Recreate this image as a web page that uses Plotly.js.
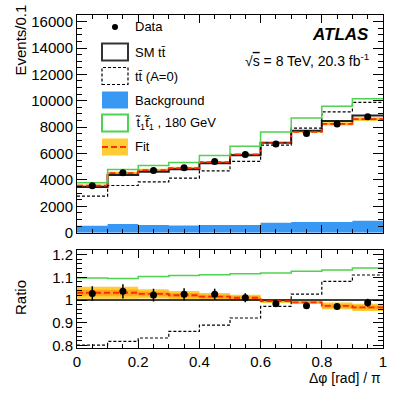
<!DOCTYPE html>
<html>
<head>
<meta charset="utf-8">
<script src="https://cdn.plot.ly/plotly-3.0.1.min.js"></script>
<style>
  body { margin: 0; background: #fff; }
  #chart { width: 399px; height: 394px; }
</style>
</head>
<body>
<div id="chart"></div>
<script>
// bins in delta phi / pi
const binEdges = [0, 0.1, 0.2, 0.3, 0.4, 0.5, 0.6, 0.7, 0.8, 0.9, 1.0];
const binCenters = [0.05, 0.15, 0.25, 0.35, 0.45, 0.55, 0.65, 0.75, 0.85, 0.95];

// upper panel, events per bin
const dataEvents = [3561, 4545, 4727, 4924, 5409, 5939, 6720, 7530, 8235, 8788];
const dataErr = [114, 141, 132, 133, 130, 119, 87, 90, 99, 158];
const smTT = [3461, 4379, 4625, 4804, 5277, 5880, 6829, 7723, 8472, 8895];
const ttNoSpin = [2776, 3582, 3853, 4141, 4697, 5415, 6638, 7924, 9167, 9873];
const stop180 = [3797, 4795, 5101, 5323, 5863, 6556, 7642, 8696, 9590, 10149];
const background = [530, 660, 583, 561, 583, 583, 758, 811, 811, 909];
const fitEvents = [3572, 4519, 4750, 4905, 5356, 5939, 6795, 7646, 8252, 8610];
const fitErr = [90, 114, 93, 91, 84, 76, 55, 62, 127, 142];

// lower panel, ratio to SM tt
const ratioData = [1.029, 1.038, 1.022, 1.025, 1.025, 1.010, 0.984, 0.975, 0.972, 0.988];
const ratioDataErr = [0.032, 0.031, 0.028, 0.027, 0.024, 0.020, 0.013, 0.012, 0.012, 0.018];
const ratioSM = [1, 1, 1, 1, 1, 1, 1, 1, 1, 1];
const ratioNoSpin = [0.802, 0.818, 0.833, 0.862, 0.890, 0.921, 0.972, 1.026, 1.082, 1.110];
const ratioStop = [1.097, 1.095, 1.103, 1.108, 1.111, 1.115, 1.119, 1.126, 1.132, 1.141];
const ratioFit = [1.032, 1.032, 1.027, 1.021, 1.015, 1.010, 0.995, 0.990, 0.974, 0.968];
const ratioFitErr = [0.026, 0.026, 0.020, 0.019, 0.016, 0.013, 0.008, 0.008, 0.015, 0.016];

// tick labels
const eventTicks = [0, 2000, 4000, 6000, 8000, 10000, 12000, 14000, 16000];
const ratioTicks = [0.8, 0.9, 1, 1.1, 1.2];
const ratioTickText = ['0.8', '0.9', '1', '1.1', '1.2'];
const xTicks = [0, 0.2, 0.4, 0.6, 0.8, 1];
const xTickText = ['0', '0.2', '0.4', '0.6', '0.8', '1'];

const FONT = 'Liberation Sans, Arial, Helvetica, sans-serif';
const GREEN = '#4fd24f';
const BLUE = '#3a98f5';
const YELLOW = '#ffcc33';
const ORANGE = '#ffa41c';
const RED = '#ff2a00';

// histogram helpers: bin edges + last value repeated, drawn with hv steps
function steps(vals) { return vals.concat([vals[vals.length - 1]]); }
function stepTrace(vals, xa, ya, line, extra) {
  return Object.assign({
    x: binEdges, y: steps(vals), xaxis: xa, yaxis: ya,
    type: 'scatter', mode: 'lines', line: Object.assign({ shape: 'hv' }, line),
    hoverinfo: 'skip', showlegend: false
  }, extra || {});
}
function band(center, err, scale, color, xa, ya) {
  const lo = center.map((v, i) => v - err[i] * scale);
  const hi = center.map((v, i) => v + err[i] * scale);
  return [
    stepTrace(lo, xa, ya, { width: 0 }),
    stepTrace(hi, xa, ya, { width: 0 }, { fill: 'tonexty', fillcolor: color })
  ];
}

const traces = [
  // upper panel
  stepTrace(background, 'x', 'y', { width: 0 }, { fill: 'tozeroy', fillcolor: BLUE }),
  ...band(fitEvents, fitErr, 1, YELLOW, 'x', 'y'),
  ...band(fitEvents, fitErr, 0.5, ORANGE, 'x', 'y'),
  stepTrace(smTT, 'x', 'y', { color: '#222', width: 2 }),
  stepTrace(fitEvents, 'x', 'y', { color: RED, width: 1.8, dash: '6px,3px' }),
  stepTrace(ttNoSpin, 'x', 'y', { color: '#000', width: 1.2, dash: '3px,2px' }),
  stepTrace(stop180, 'x', 'y', { color: GREEN, width: 1.5 }),
  {
    x: binCenters, y: dataEvents, xaxis: 'x', yaxis: 'y',
    type: 'scatter', mode: 'markers',
    marker: { color: '#000', size: 7 },
    error_y: { type: 'data', array: dataErr, color: '#000', thickness: 1.5, width: 0 },
    showlegend: false
  },
  // ratio panel
  stepTrace(ratioStop, 'x2', 'y2', { color: GREEN, width: 1.5 }),
  ...band(ratioFit, ratioFitErr, 1, YELLOW, 'x2', 'y2'),
  ...band(ratioFit, ratioFitErr, 0.5, ORANGE, 'x2', 'y2'),
  stepTrace(ratioSM, 'x2', 'y2', { color: '#000', width: 1.5 }),
  stepTrace(ratioFit, 'x2', 'y2', { color: RED, width: 1.8, dash: '6px,3px' }),
  stepTrace(ratioNoSpin, 'x2', 'y2', { color: '#000', width: 1.2, dash: '3px,2px' }),
  {
    x: binCenters, y: ratioData, xaxis: 'x2', yaxis: 'y2',
    type: 'scatter', mode: 'markers',
    marker: { color: '#000', size: 7 },
    error_y: { type: 'data', array: ratioDataErr, color: '#000', thickness: 1.5, width: 0 },
    showlegend: false
  }
];

// pixel -> paper helpers (plot area: x 77..383, y 15..348)
const L = 77, R = 16, T = 15, B = 46, W = 399, H = 394;
const px = (x) => (x - L) / (W - L - R);
const py = (y) => (H - B - y) / (H - T - B);

const axisCommon = {
  showline: true, linecolor: '#000', linewidth: 1, mirror: 'ticks',
  ticks: 'inside', tickcolor: '#000', showgrid: false, zeroline: false,
  tickfont: { family: FONT, size: 15, color: '#000' }
};

// hand-drawn legend
const legendRows = [
  { label: 'Data', y: 27, kind: 'dot' },
  { label: 'SM tt\u0304', y: 52, kind: 'sm' },
  { label: 'tt\u0304 (A=0)', y: 76, kind: 'nospin' },
  { label: 'Background', y: 100, kind: 'bkg' },
  { label: 't\u0303<sub>1</sub>t\u0303\u0304<sub>1</sub> , 180 GeV', y: 123, kind: 'stop' },
  { label: 'Fit', y: 147, kind: 'fit' }
];
const shapes = [];
const annotations = [];
legendRows.forEach((r) => {
  const box = { type: 'rect', xref: 'paper', yref: 'paper',
    x0: px(102), x1: px(128), y0: py(r.y + 8.5), y1: py(r.y - 8.5) };
  if (r.kind === 'dot') {
    shapes.push({ type: 'circle', xref: 'paper', yref: 'paper',
      x0: px(112), x1: px(118), y0: py(r.y + 3), y1: py(r.y - 3),
      fillcolor: '#000', line: { width: 0 } });
  } else if (r.kind === 'sm') {
    shapes.push(Object.assign(box, { line: { color: '#333', width: 2 } }));
  } else if (r.kind === 'nospin') {
    shapes.push(Object.assign(box, { line: { color: '#000', width: 1.2, dash: '3px,2px' } }));
  } else if (r.kind === 'bkg') {
    shapes.push(Object.assign(box, { fillcolor: BLUE, line: { width: 0 } }));
  } else if (r.kind === 'stop') {
    shapes.push(Object.assign(box, { line: { color: GREEN, width: 2 } }));
  } else if (r.kind === 'fit') {
    shapes.push(Object.assign(box, { fillcolor: YELLOW, line: { width: 0 } }));
    shapes.push({ type: 'line', xref: 'paper', yref: 'paper',
      x0: px(102), x1: px(128), y0: py(r.y), y1: py(r.y),
      line: { color: RED, width: 1.8, dash: '6px,3px' } });
  }
  annotations.push({ xref: 'paper', yref: 'paper', x: px(133), y: py(r.y),
    xanchor: 'left', yanchor: 'middle', showarrow: false, text: r.label,
    font: { family: FONT, size: 13, color: '#000' } });
});

annotations.push(
  { xref: 'paper', yref: 'paper', x: px(371), y: py(35), xanchor: 'right', yanchor: 'middle',
    showarrow: false, text: 'ATLAS',
    font: { family: FONT, size: 17, color: '#000', weight: 'bold', style: 'italic' } },
  { xref: 'paper', yref: 'paper', x: px(371), y: py(60), xanchor: 'right', yanchor: 'middle',
    showarrow: false,
    text: '\u221A<span style="text-decoration:overline">s</span> = 8 TeV, 20.3 fb<sup>-1</sup>',
    font: { family: FONT, size: 14, color: '#000' } },
  { xref: 'paper', yref: 'paper', x: px(20), y: py(3), xanchor: 'center', yanchor: 'top',
    showarrow: false, textangle: -90, text: 'Events/0.1',
    font: { family: FONT, size: 15, color: '#000' } },
  { xref: 'paper', yref: 'paper', x: px(20), y: py(298), xanchor: 'center', yanchor: 'middle',
    showarrow: false, textangle: -90, text: 'Ratio',
    font: { family: FONT, size: 15, color: '#000' } },
  { xref: 'paper', yref: 'paper', x: px(383), y: py(378), xanchor: 'right', yanchor: 'middle',
    showarrow: false, text: '\u0394\u03c6 [rad] / \u03c0',
    font: { family: FONT, size: 14, color: '#000' } }
);

const layout = {
  width: W, height: H,
  margin: { l: L, r: R, t: T, b: B },
  paper_bgcolor: '#fff', plot_bgcolor: '#fff',
  showlegend: false,
  xaxis: Object.assign({}, axisCommon, {
    anchor: 'y', range: [0, 1], showticklabels: false,
    tickmode: 'array', tickvals: xTicks, ticklen: 8,
    minor: { dtick: 0.05, tick0: 0, ticklen: 4, ticks: 'inside', tickcolor: '#000' }
  }),
  yaxis: Object.assign({}, axisCommon, {
    domain: [0.346, 1], range: [0, 16500],
    tickmode: 'array', tickvals: eventTicks, tickformat: 'd', ticklen: 10,
    minor: { dtick: 500, tick0: 0, ticklen: 5, ticks: 'inside', tickcolor: '#000' }
  }),
  xaxis2: Object.assign({}, axisCommon, {
    anchor: 'y2', matches: 'x', range: [0, 1],
    tickmode: 'array', tickvals: xTicks, ticktext: xTickText, ticklen: 8,
    minor: { dtick: 0.05, tick0: 0, ticklen: 4, ticks: 'inside', tickcolor: '#000' }
  }),
  yaxis2: Object.assign({}, axisCommon, {
    domain: [0, 0.293], range: [0.789, 1.218],
    tickmode: 'array', tickvals: ratioTicks, ticktext: ratioTickText, ticklen: 10,
    minor: { dtick: 0.02, tick0: 0.8, ticklen: 5, ticks: 'inside', tickcolor: '#000' }
  }),
  shapes: shapes,
  annotations: annotations
};

Plotly.newPlot('chart', traces, layout, { displayModeBar: false, staticPlot: true });
</script>
</body>
</html>
